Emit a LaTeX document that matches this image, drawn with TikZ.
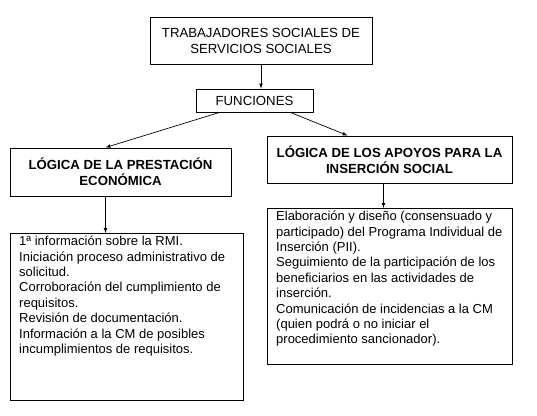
\documentclass[tikz,border=0pt]{standalone}
\usepackage{fontspec}
\setmainfont{Liberation Sans}
\usepackage{tikz}

\begin{document}
\begin{tikzpicture}[x=1pt,y=1pt]
      \tikzstyle{main}=[rectangle, draw=black, line width=0.8pt, align=center, inner sep=0pt, font=\fontsize{13.2}{16}\selectfont]
      \tikzstyle{logica}=[main, line width=1pt, font=\fontsize{13.2}{16}\selectfont\bfseries]
      \tikzstyle{box}=[rectangle, draw=black, line width=0.8pt, anchor=north west, inner sep=0pt]
      \tikzstyle{lst}=[anchor=north west, align=left, inner sep=0pt, font=\fontsize{13}{15.4}\selectfont]
      \tikzstyle{connect}=[-latex, line width=0.7pt]

      \useasboundingbox (0,0) rectangle (537,-415);

      \node[main, minimum width=222, minimum height=47] (ts) at (261,-40.5) {TRABAJADORES SOCIALES DE\\SERVICIOS SOCIALES};
      \node[main, minimum width=117, minimum height=23] (func) at (254.5,-100.5) {FUNCIONES};
      \node[logica, minimum width=221, minimum height=48] (prest) at (120.5,-172) {LÓGICA DE LA PRESTACIÓN\\ECONÓMICA};
      \node[logica, minimum width=245, minimum height=47] (apoyos) at (389.5,-159.5) {LÓGICA DE LOS APOYOS PARA LA\\INSERCIÓN SOCIAL};

      \node[box, minimum width=233, minimum height=167] (tareasA) at (10,-233) {};
      \node[lst] (txtA) at (19,-236) {1ª información sobre la RMI.\\
        Iniciación proceso administrativo de\\solicitud.\\
        Corroboración del cumplimiento de\\requisitos.\\
        Revisión de documentación.\\
        Información a la CM de posibles\\incumplimientos de requisitos.};

      \node[box, minimum width=245, minimum height=156] (tareasB) at (267,-208) {};
      \node[lst] (txtB) at (276,-211) {Elaboración y diseño (consensuado y\\
        participado) del Programa Individual de\\Inserción (PII).\\
        Seguimiento de la participación de los\\beneficiarios en las actividades de\\inserción.\\
        Comunicación de incidencias a la CM\\(quien podrá o no iniciar el\\procedimiento sancionador).};

      \path (ts) edge [connect] (ts.south |- func.north)
            (func.south west) ++(24,0) coordinate (fa) edge [connect] ([xshift=-15]prest.north)
            (func.south east) ++(-23,0) coordinate (fb) edge [connect] ([xshift=-42]apoyos.north);

      \path ([xshift=-15]prest.south) edge [connect] ([xshift=-15]prest.south |- tareasA.north)
            ([xshift=-6]apoyos.south) edge [connect] ([xshift=-6]apoyos.south |- tareasB.north);
    \end{tikzpicture}
\end{document}
